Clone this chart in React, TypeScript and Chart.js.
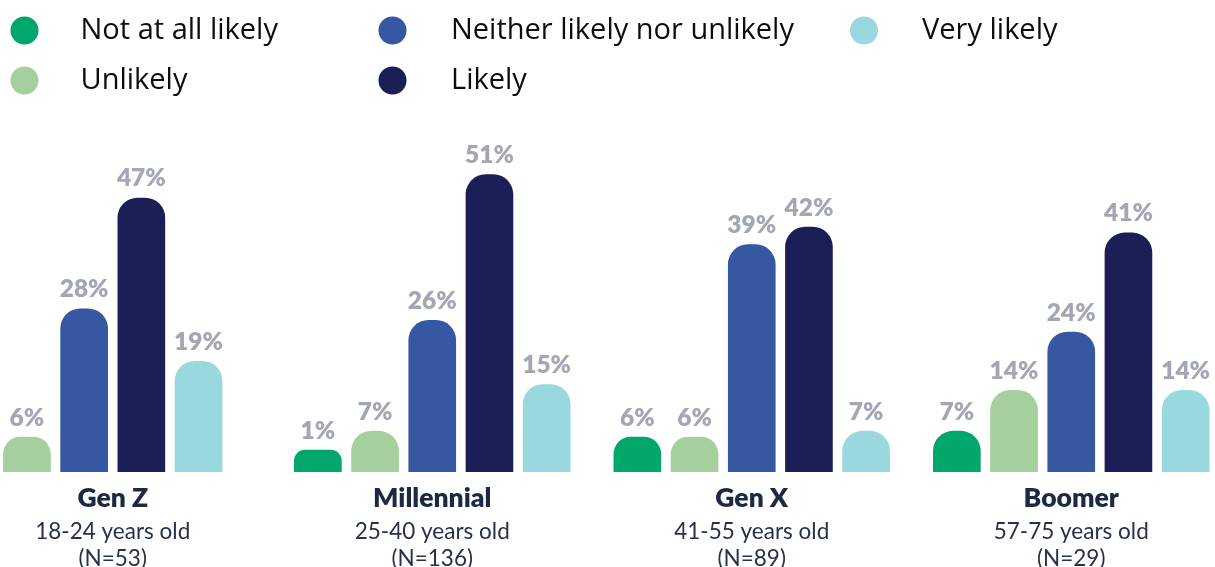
import React, { useEffect, useRef } from "react";
import { Chart, registerables } from "chart.js";

Chart.register(...registerables);

const categories = ["Gen Z", "Millennial", "Gen X", "Boomer"];
const ageRanges = ["18-24 years old", "25-40 years old", "41-55 years old", "57-75 years old"];
const sampleSizes = ["(N=53)", "(N=136)", "(N=89)", "(N=29)"];

const seriesNames = ["Not at all likely", "Unlikely", "Neither likely nor unlikely", "Likely", "Very likely"];
const notAtAllLikely = [null, 1, 6, 7];
const unlikely = [6, 7, 6, 14];
const neither = [28, 26, 39, 24];
const likely = [47, 51, 42, 41];
const veryLikely = [19, 15, 7, 14];
const seriesColors = ["#00a66a", "#a6cf9e", "#3657a2", "#1b1f56", "#98d8de"];

const OFFSET = 47; // canvas is shifted left so the plot area matches the reference crop
const CANVAS_W = 1278;
const CANVAS_H = 567;

const LEGEND_COLS = [
  { dot: 24.5, text: 80.5 },
  { dot: 392.5, text: 451 },
  { dot: 864, text: 922 },
];
const LEGEND_ROWS = [30.5, 80.5];

const LABEL_FONT = "Lato";
const LEGEND_FONT = "'Open Sans'";

const drawPlugin = {
  id: "customText",
  afterDatasetsDraw(chart: any) {
    const ctx = chart.ctx as CanvasRenderingContext2D;
    ctx.save();
    // value labels
    chart.data.datasets.forEach((ds: any, di: number) => {
      const meta = chart.getDatasetMeta(di);
      meta.data.forEach((bar: any, i: number) => {
        const v = ds.data[i];
        if (v === null || v === undefined) return;
        ctx.font = `800 24.5px ${LABEL_FONT}`;
        ctx.fillStyle = "#a3a6b5";
        ctx.textAlign = "center";
        ctx.textBaseline = "alphabetic";
        ctx.fillText(`${v}%`, bar.x, bar.y - 11.5);
      });
    });
    // category labels
    const xs = chart.scales.x;
    categories.forEach((c, i) => {
      const x = xs.getPixelForTick(i);
      ctx.textAlign = "center";
      ctx.textBaseline = "alphabetic";
      ctx.fillStyle = "#1d2845";
      ctx.font = `800 26.5px ${LABEL_FONT}`;
      ctx.fillText(c, x, 506.5);
      ctx.fillStyle = "#27304d";
      ctx.font = `400 22.5px ${LABEL_FONT}`;
      ctx.fillText(ageRanges[i], x, 539);
      ctx.fillText(sampleSizes[i], x, 566);
    });
    // legend (column-major, 2 rows)
    seriesNames.forEach((name, k) => {
      const col = LEGEND_COLS[Math.floor(k / 2)];
      const cy = LEGEND_ROWS[k % 2];
      ctx.fillStyle = seriesColors[k];
      ctx.beginPath();
      ctx.arc(col.dot + OFFSET, cy, 14, 0, Math.PI * 2);
      ctx.fill();
      ctx.fillStyle = "#0d0d0d";
      ctx.font = `400 29px ${LEGEND_FONT}`;
      ctx.textAlign = "left";
      ctx.textBaseline = "alphabetic";
      ctx.fillText(name, col.text + OFFSET, cy + 8);
    });
    ctx.restore();
  },
};

export default function App() {
  const canvasRef = useRef<HTMLCanvasElement | null>(null);

  useEffect(() => {
    if (!canvasRef.current) return;
    const seriesData = [notAtAllLikely, unlikely, neither, likely, veryLikely];
    const chart = new Chart(canvasRef.current, {
      type: "bar",
      data: {
        labels: categories,
        datasets: seriesNames.map((name, k) => ({
          label: name,
          data: seriesData[k] as any,
          backgroundColor: seriesColors[k],
          borderWidth: 0,
          borderRadius: 20,
          borderSkipped: "start",
          barThickness: 57.2,
          maxBarThickness: 47,
          minBarLength: 22,
          skipNull: true,
        })),
      },
      options: {
        animation: false,
        responsive: true,
        maintainAspectRatio: false,
        layout: { padding: { top: 128, bottom: 95, left: 0, right: 0 } },
        plugins: {
          legend: { display: false },
          tooltip: { enabled: false },
        },
        scales: {
          x: { display: false, grid: { display: false } },
          y: { display: false, min: 0, max: 59, grid: { display: false } },
        },
      },
      plugins: [drawPlugin],
    });
    if ((document as any).fonts) {
      Promise.all([
        document.fonts.load(`800 24px ${LABEL_FONT}`),
        document.fonts.load(`400 22px ${LABEL_FONT}`),
        document.fonts.load(`400 29px ${LEGEND_FONT}`),
      ]).then(() => chart.draw()).catch(() => {});
    }
    return () => chart.destroy();
  }, []);

  return (
    <div style={{ position: "fixed", left: 0, top: 0, width: 1215, height: 567, overflow: "hidden", background: "#fff" }}>
      <div style={{ position: "absolute", left: -OFFSET, top: 0, width: CANVAS_W, height: CANVAS_H }}>
        <canvas ref={canvasRef} />
      </div>
    </div>
  );
}
